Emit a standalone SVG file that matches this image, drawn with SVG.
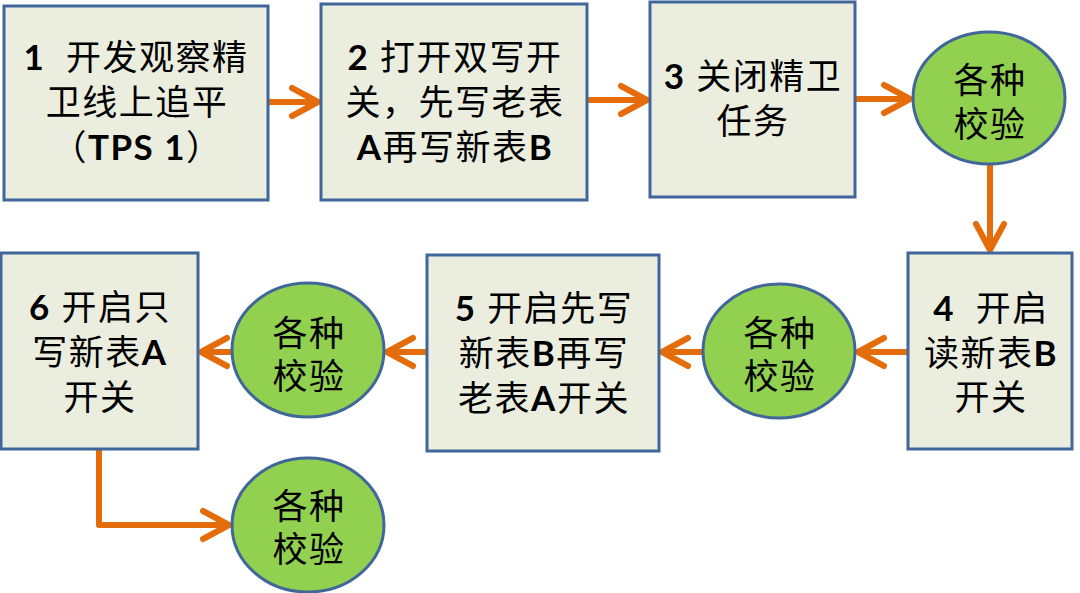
<svg xmlns="http://www.w3.org/2000/svg" width="1080" height="593" viewBox="0 0 1080 593">
<style>
.box{fill:#EBEEDF;stroke:#41679A;stroke-width:3}
.oval{fill:#92D050;stroke:#41679A;stroke-width:3}
.t{font-family:Lato,"Noto Sans CJK SC",sans-serif;font-size:35px;fill:#000;text-anchor:middle;letter-spacing:1.5px}
.b{font-weight:bold}
.c{fill:none;stroke:#E46C0A;stroke-width:6;stroke-linejoin:round}
</style>
<defs>
<marker id="ah" markerUnits="userSpaceOnUse" markerWidth="40" markerHeight="40" viewBox="-30 -20 40 40" refX="0" refY="0" orient="auto" overflow="visible">
<path d="M-26,-14 L0,0 L-26,14" fill="none" stroke="#E46C0A" stroke-width="6" stroke-linecap="round" stroke-linejoin="round"/>
</marker>
</defs>
<g id="connectors">
<path class="c" d="M268,102 L318,102" marker-end="url(#ah)"/>
<path class="c" d="M587,100 L647,100" marker-end="url(#ah)"/>
<path class="c" d="M855,99 L910,99" marker-end="url(#ah)"/>
<path class="c" d="M990,165 L990,250" marker-end="url(#ah)"/>
<path class="c" d="M908,352 L858,352" marker-end="url(#ah)"/>
<path class="c" d="M703,352 L662,352" marker-end="url(#ah)"/>
<path class="c" d="M427,352 L387,352" marker-end="url(#ah)"/>
<path class="c" d="M232,352 L201,352" marker-end="url(#ah)"/>
<path class="c" d="M99,449 L99,525 L229,525" marker-end="url(#ah)"/>
</g>
<g id="n1">
<rect class="box" x="4" y="6" width="264" height="194"/>
<text class="t"><tspan x="136" y="70"><tspan class="b">1</tspan>&#160; 开发观察精</tspan><tspan x="137" y="115">卫线上追平</tspan><tspan x="137" y="160">（<tspan class="b">TPS 1</tspan>）</tspan></text>
</g>
<g id="n2">
<rect class="box" x="321" y="4" width="266" height="196"/>
<text class="t"><tspan x="455" y="70"><tspan class="b">2</tspan> 打开双写开</tspan><tspan x="455" y="115">关，先写老表</tspan><tspan x="455" y="160"><tspan class="b">A</tspan>再写新表<tspan class="b">B</tspan></tspan></text>
</g>
<g id="n3">
<rect class="box" x="650" y="2" width="205" height="195"/>
<text class="t"><tspan x="753" y="89"><tspan class="b">3</tspan> 关闭精卫</tspan><tspan x="753" y="134">任务</tspan></text>
</g>
<g id="c1">
<ellipse class="oval" cx="989" cy="98" rx="76" ry="66"/>
<text class="t"><tspan x="990" y="93">各种</tspan><tspan x="990" y="137">校验</tspan></text>
</g>
<g id="n4">
<rect class="box" x="908" y="253" width="164" height="196"/>
<text class="t"><tspan x="991" y="321"><tspan class="b">4</tspan>&#160; 开启</tspan><tspan x="991" y="366">读新表<tspan class="b">B</tspan></tspan><tspan x="991" y="410">开关</tspan></text>
</g>
<g id="c2">
<ellipse class="oval" cx="779" cy="351" rx="76" ry="67"/>
<text class="t"><tspan x="780" y="346">各种</tspan><tspan x="780" y="389">校验</tspan></text>
</g>
<g id="n5">
<rect class="box" x="427" y="255" width="232" height="196"/>
<text class="t"><tspan x="544" y="321"><tspan class="b">5</tspan> 开启先写</tspan><tspan x="544" y="366">新表<tspan class="b">B</tspan>再写</tspan><tspan x="544" y="411">老表<tspan class="b">A</tspan>开关</tspan></text>
</g>
<g id="c3">
<ellipse class="oval" cx="308" cy="350" rx="76" ry="67"/>
<text class="t"><tspan x="309" y="346">各种</tspan><tspan x="309" y="389">校验</tspan></text>
</g>
<g id="n6">
<rect class="box" x="1" y="253" width="197" height="196"/>
<text class="t"><tspan x="100" y="320"><tspan class="b">6</tspan> 开启只</tspan><tspan x="100" y="365">写新表<tspan class="b">A</tspan></tspan><tspan x="100" y="410">开关</tspan></text>
</g>
<g id="c4">
<ellipse class="oval" cx="308" cy="525" rx="76" ry="67"/>
<text class="t"><tspan x="309" y="519">各种</tspan><tspan x="309" y="562">校验</tspan></text>
</g>
</svg>
